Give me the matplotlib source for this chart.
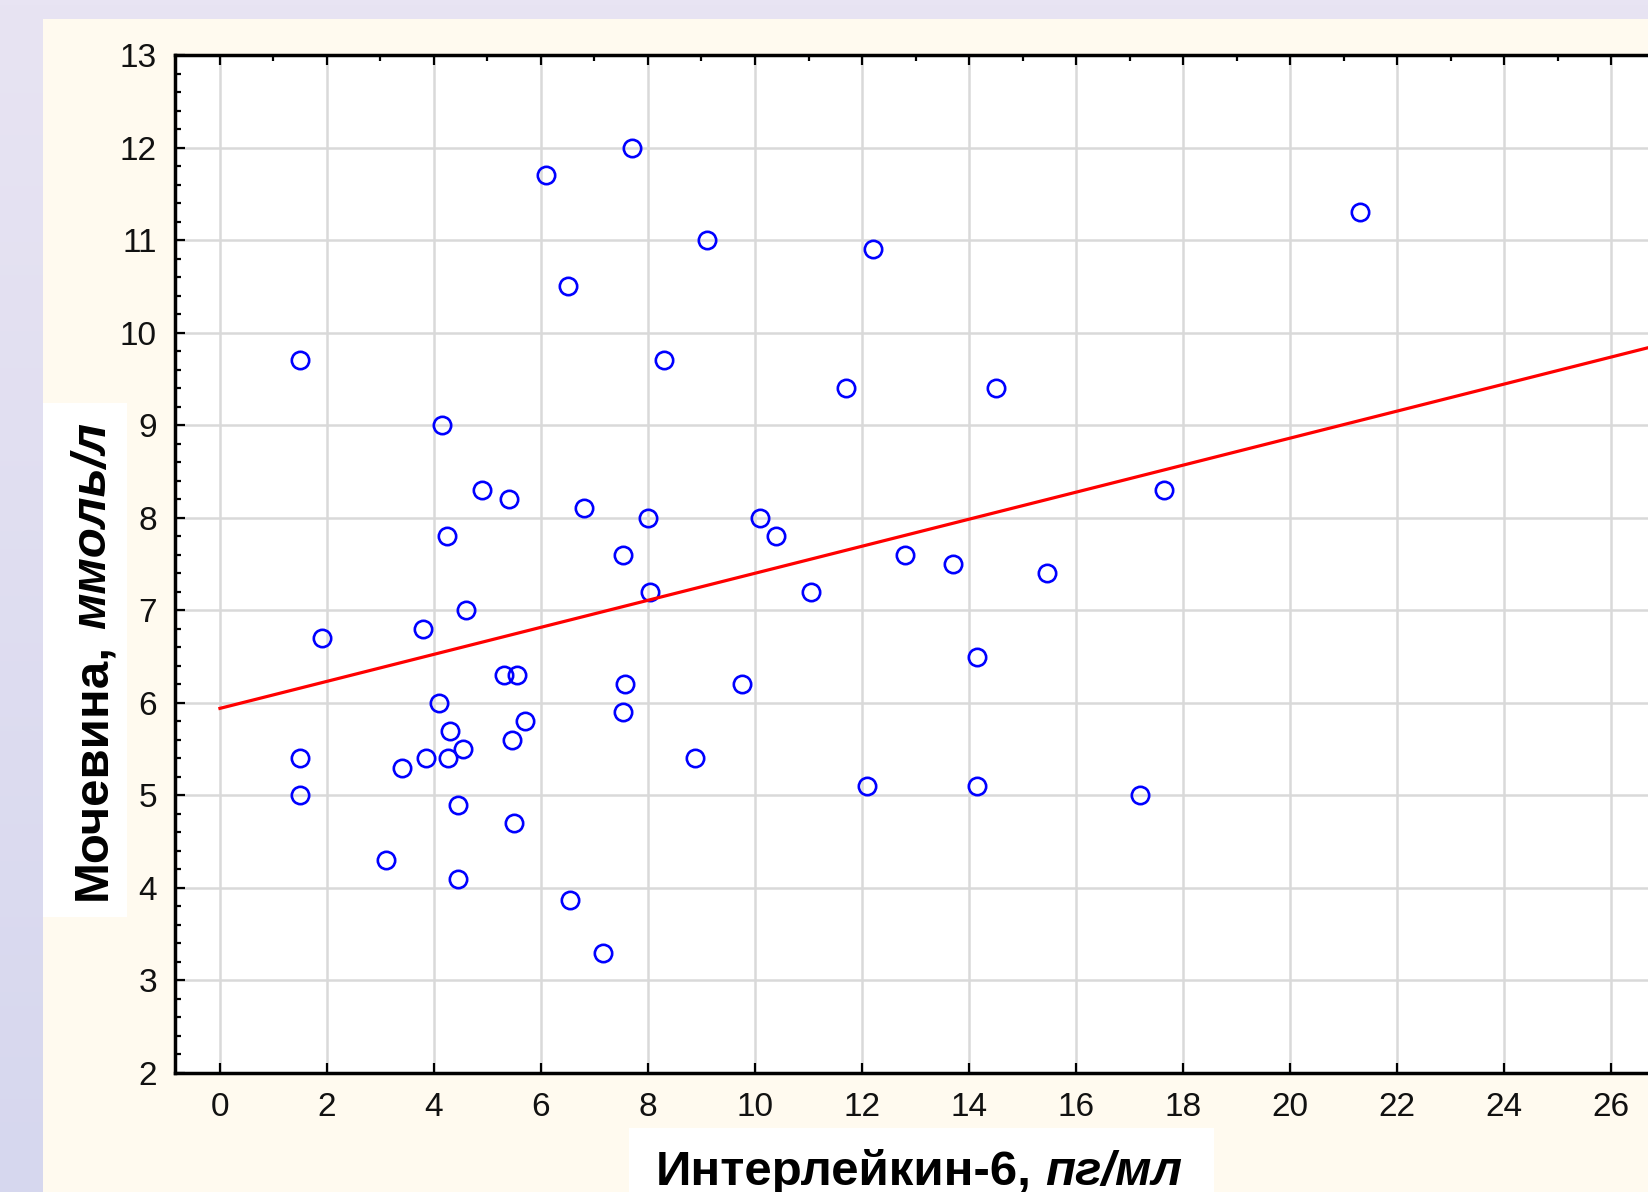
import matplotlib
matplotlib.use('Agg')
import matplotlib.pyplot as plt
import numpy as np
from matplotlib.patches import Rectangle
from matplotlib.ticker import MultipleLocator
from matplotlib.transforms import IdentityTransform
from matplotlib.colors import LinearSegmentedColormap

# ---------------- data ----------------
il6 = [1.5, 1.5, 1.5, 1.9, 3.1, 3.4, 3.8, 3.85, 4.1, 4.15, 4.25, 4.27,
       4.3, 4.45, 4.45, 4.55, 4.6, 4.9, 5.3, 5.4, 5.45, 5.55, 5.5, 5.7,
       6.1, 6.5, 6.55, 6.8, 7.15, 7.53, 7.53, 7.57, 7.7, 8.0, 8.03, 8.3,
       8.87, 9.1, 9.75, 10.1, 10.4, 11.05, 11.7, 12.1, 12.2, 12.8, 13.7, 14.15,
       14.15, 14.5, 15.45, 17.2, 17.65, 21.3]
urea = [9.7, 5.4, 5.0, 6.7, 4.3, 5.3, 6.8, 5.4, 6.0, 9.0, 7.8, 5.4,
        5.7, 4.9, 4.1, 5.5, 7.0, 8.3, 6.3, 8.2, 5.6, 6.3, 4.7, 5.8,
        11.7, 10.5, 3.87, 8.1, 3.3, 7.6, 5.9, 6.2, 12.0, 8.0, 7.2, 9.7,
        5.4, 11.0, 6.2, 8.0, 7.8, 7.2, 9.4, 5.1, 10.9, 7.6, 7.5, 6.5,
        5.1, 9.4, 7.4, 5.0, 8.3, 11.3]
fit_intercept = 5.94
fit_slope = 0.146

x_ticks = list(range(0, 27, 2))
y_ticks = list(range(2, 14))
x_label_main = 'Интерлейкин-6,'
x_label_unit = 'пг/мл'
y_label_main = 'Мочевина,'
y_label_unit = 'ммоль/л'

# ---------------- figure ----------------
plt.rcParams['font.family'] = ['Liberation Sans', 'DejaVu Sans']

W, H = 1648, 1192
DPI = 100
fig = plt.figure(figsize=(W / DPI, H / DPI), dpi=DPI)
fig.patch.set_facecolor('#E4E2F1')

# background (slide-like)
bg = fig.add_axes([0, 0, 1, 1], zorder=-10)
bg.set_xlim(0, W)
bg.set_ylim(0, H)
bg.axis('off')
cmap = LinearSegmentedColormap.from_list('lav', ['#D6D7EE', '#E8E4F3'])
grad = np.linspace(0, 1, 256).reshape(-1, 1)
bg.imshow(grad, cmap=cmap, extent=[0, W, 0, H], aspect='auto', origin='lower')
bg.add_patch(Rectangle((43, 0), W - 43, H - 19, facecolor='#FFFAEF', edgecolor='none'))
bg.add_patch(Rectangle((43, H - 917), 127 - 43, 917 - 403, facecolor='white', edgecolor='none'))
bg.add_patch(Rectangle((629, 0), 1214 - 629, H - 1128, facecolor='white', edgecolor='none'))

# main axes
ax_left, ax_top, ax_bottom = 175, 55, 1073
ax = fig.add_axes([ax_left / W, (H - ax_bottom) / H, 1 - ax_left / W, (ax_bottom - ax_top) / H])
ax.set_facecolor('white')
ax.set_xlim(-0.84, 26.69)
ax.set_ylim(2, 13)

ax.grid(True, which='major', color='#D9D9D9', linewidth=1.8)
ax.set_axisbelow(True)

ax.plot(il6, urea, linestyle='none', marker='o', markerfacecolor='none',
        markeredgecolor='#0000FF', markersize=12.5, markeredgewidth=1.9, zorder=3)

xs = np.array([min(x_ticks), ax.get_xlim()[1]])
ax.plot(xs, fit_intercept + fit_slope * xs, color='#FF0000', linewidth=2.3, zorder=4)

ax.set_xticks(x_ticks)
ax.set_yticks(y_ticks)
ax.xaxis.set_minor_locator(MultipleLocator(1))
ax.yaxis.set_minor_locator(MultipleLocator(0.2))
ax.tick_params(which='major', direction='in', length=7, width=1.6, color='black',
               top=True, bottom=True, left=True, right=False, labelsize=24, labelcolor='#111111')
ax.tick_params(axis='x', which='major', pad=14)
ax.tick_params(axis='y', which='major', pad=13)
ax.tick_params(axis='x', which='minor', direction='in', length=4, width=1.6,
               top=True, bottom=False)
ax.tick_params(axis='y', which='minor', direction='in', length=4, width=1.6,
               left=True, right=False)

for side in ['left', 'bottom', 'top']:
    ax.spines[side].set_linewidth(2.5)
    ax.spines[side].set_color('black')
ax.spines['right'].set_visible(False)

# ---------------- axis titles (bold + bold italic parts) ----------------
fig.canvas.draw()
renderer = fig.canvas.get_renderer()
lab_size = 35.5
ident = IdentityTransform()


def text_width(s, **kw):
    t = fig.text(0, 0, s, fontsize=lab_size, transform=ident, **kw)
    w = t.get_window_extent(renderer).width
    t.remove()
    return w


space_w = text_width('И И', fontweight='bold') - text_width('ИИ', fontweight='bold')

# x label
w1 = text_width(x_label_main, fontweight='bold')
w2 = text_width(x_label_unit, fontweight='bold', fontstyle='italic')
total = w1 + space_w + w2
cx, base_y = 919, 7
x0 = cx - total / 2
fig.text(x0, base_y, x_label_main, fontsize=lab_size, fontweight='bold',
         ha='left', va='baseline', transform=ident, color='black')
fig.text(x0 + w1 + space_w, base_y, x_label_unit, fontsize=lab_size, fontweight='bold',
         fontstyle='italic', ha='left', va='baseline', transform=ident, color='black')

# y label (rotated)
h1 = text_width(y_label_main, fontweight='bold')
h2 = text_width(y_label_unit, fontweight='bold', fontstyle='italic')
total_y = h1 + space_w + h2
cy = H - 661
base_x = 105
y0 = cy - total_y / 2
fig.text(base_x, y0, y_label_main, fontsize=lab_size, fontweight='bold', rotation=90,
         rotation_mode='anchor', ha='left', va='baseline', transform=ident, color='black')
fig.text(base_x, y0 + h1 + space_w, y_label_unit, fontsize=lab_size, fontweight='bold',
         fontstyle='italic', rotation=90, rotation_mode='anchor', ha='left', va='baseline',
         transform=ident, color='black')

fig.savefig('out.png', dpi=DPI, facecolor=fig.get_facecolor())
